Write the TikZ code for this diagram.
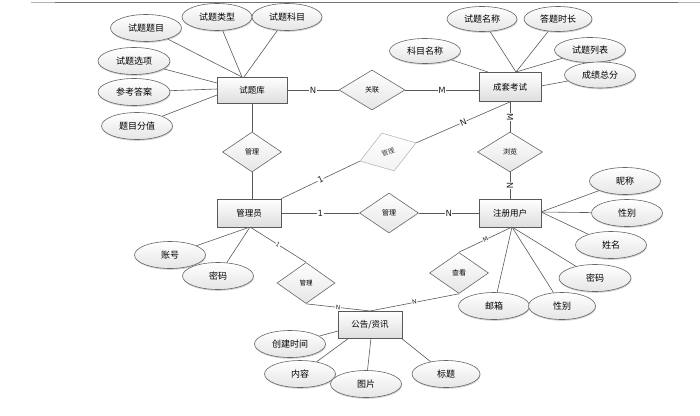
\documentclass[tikz,border=0pt]{standalone}
\usepackage{fontspec}
\setsansfont{DejaVu Sans}
\newfontfamily\cjk{Noto Sans CJK SC}
\usetikzlibrary{shapes.geometric,shadows,backgrounds}
\begin{document}
\begin{tikzpicture}[x=1pt,y=-1pt,
 ent/.style={draw=black!65, line width=0.8pt, top color=white, bottom color=black!13,
   minimum width=64pt, minimum height=27pt, inner sep=0pt, font=\cjk\fontsize{8.5}{8.5}\selectfont},
 attr/.style={ellipse, draw=black!60, line width=0.6pt, top color=white, bottom color=black!10,
   minimum width=71pt, minimum height=27pt, inner sep=0pt, font=\cjk\fontsize{9}{9}\selectfont,
   drop shadow={shadow xshift=0.5pt, shadow yshift=-1.3pt, opacity=0.35}},
 rel/.style={diamond, draw=black!60, line width=0.6pt, top color=white, bottom color=black!10,
   minimum width=59pt, minimum height=40pt, inner sep=0pt, font=\cjk\fontsize{7}{7}\selectfont},
 conn/.style={draw=black!65, line width=0.6pt},
 card/.style={fill=white, inner sep=0.5pt, font=\sffamily\fontsize{8.5}{8.5}\selectfont, text=black!85},
 cards/.style={card, font=\sffamily\fontsize{6}{6}\selectfont},
]
\useasboundingbox (0,0) rectangle (700,415);
\draw[black!30, line width=0.7pt] (31,2) -- (55,2);
\draw[black!55, line width=0.7pt] (55,2) -- (678,2);
\draw[black!30, line width=0.7pt] (678,2) -- (700,2);

% entities
\node[ent, minimum width=70pt, minimum height=26pt] (tk) at (252,90) {试题库};
\node[ent, minimum width=62pt, minimum height=29pt] (ck) at (510,87) {成套考试};
\node[ent, minimum height=28pt] (gly) at (249,213) {管理员};
\node[ent, minimum width=62pt, minimum height=28pt] (zc) at (510,213) {注册用户};
\node[ent] (gg) at (370,325) {公告/资讯};

% relationships
\node[rel, minimum width=66pt] (gl) at (372,90) {关联};
\node[rel] (m1) at (252,152) {管理};
\node[rel, rotate=18, draw=black!28, bottom color=black!5, text=black!75, font=\cjk\fontsize{6.5}{6.5}\selectfont] (tilt) at (388,152) {管理};
\node[rel, minimum width=65pt] (ll) at (510,152) {浏览};
\node[rel] (m2) at (389,213) {管理};
\node[rel, minimum width=58pt, minimum height=41pt, font=\cjk\fontsize{6.5}{6.5}\selectfont] (m3) at (306,283) {管理};
\node[rel, minimum height=41pt] (ckk) at (459,273) {查看};

% attributes
\node[attr] (a1) at (146,28) {试题题目};
\node[attr, minimum width=70pt] (a2) at (217,17) {试题类型};
\node[attr, minimum width=70pt] (a3) at (287,17) {试题科目};
\node[attr, minimum width=72pt] (a4) at (134,61) {试题选项};
\node[attr, minimum width=72pt] (a5) at (134,92) {参考答案};
\node[attr] (a6) at (137,126) {题目分值};

\node[attr, minimum width=70pt, minimum height=25pt] (b1) at (482,19) {试题名称};
\node[attr, minimum width=68pt, minimum height=25pt] (b2) at (558,19) {答题时长};
\node[attr, minimum height=25pt] (b3) at (425,51) {科目名称};
\node[attr, minimum height=25pt] (b4) at (590,50) {试题列表};
\node[attr, minimum height=26pt] (b5) at (600,75) {成绩总分};

\node[attr] (c1) at (625,181) {昵称};
\node[attr] (c2) at (627,213) {性别};
\node[attr] (c3) at (611,245) {姓名};
\node[attr, minimum width=72pt] (c4) at (595,278) {密码};
\node[attr, minimum width=71pt] (c6) at (494,306) {邮箱};
\node[attr, minimum width=67pt] (c5) at (562,306) {性别};

\node[attr] (d1) at (170,255) {账号};
\node[attr] (d2) at (218,276) {密码};

\node[attr] (e1) at (290,344) {创建时间};
\node[attr] (e2) at (300,374) {内容};
\node[attr] (e3) at (366,384) {图片};
\node[attr, minimum width=68pt] (e4) at (446,374) {标题};

% convergence points
\coordinate (tkT) at (242,77);
\coordinate (tkT2) at (244,77);
\coordinate (tkL1) at (217,83);
\coordinate (tkL2) at (217,89);
\coordinate (tkL3) at (217,95);
\coordinate (ckT) at (516,72);
\coordinate (ckT2) at (488,72);
\coordinate (ckR) at (541,86);
\coordinate (zcR) at (541,212);
\coordinate (zcB) at (512,227);
\coordinate (glyB) at (250,227);
\coordinate (ggT) at (370,311);
\coordinate (ggL) at (338,331);
\coordinate (ggB1) at (349,338);
\coordinate (ggB2) at (371,338);
\coordinate (ggB3) at (401,338);

\begin{scope}[on background layer]
\draw[conn] (a1) -- (tkT);
\draw[conn] (a2) -- (tkT);
\draw[conn] (a3) -- (tkT2);
\draw[conn] (a4) -- (tkL1);
\draw[conn] (a5) -- (tkL2);
\draw[conn] (a6) -- (tkL3);
\draw[conn] (b1) -- (ckT);
\draw[conn] (b2) -- (ckT);
\draw[conn] (b4) -- (ckT);
\draw[conn] (b3) -- (ckT2);
\draw[conn] (b5) -- (ckR);
\draw[conn] (c1) -- (zcR);
\draw[conn] (c2) -- (zcR);
\draw[conn] (c3) -- (zcR);
\draw[conn] (c4) -- (zcB);
\draw[conn] (c5) -- (zcB);
\draw[conn] (c6) -- (zcB);
\draw[conn] (d1) -- (glyB);
\draw[conn] (d2) -- (glyB);
\draw[conn] (e1) -- (ggL);
\draw[conn] (e2) -- (ggB1);
\draw[conn] (e3) -- (ggB2);
\draw[conn] (e4) -- (ggB3);
\end{scope}

% relationship connectors
\draw[conn] (tk.east) -- node[card]{N} (gl.west);
\draw[conn] (gl.east) -- node[card]{M} (gl.east -| ck.west);
\draw[conn] (m1.north |- tk.south) -- (m1.north);
\draw[conn] (m1.south) -- (m1.south |- gly.north);
\draw[conn] (gly.north east) -- node[card, sloped]{1} (tilt.west);
\draw[conn] (tilt.east) -- node[card, sloped]{N} (ck.south);
\draw[conn] (ck.south) -- node[card, sloped]{M} (ll.north);
\draw[conn] (ll.south) -- node[card, sloped]{N} (zc.north);
\draw[conn] (gly.east) -- node[card]{1} (m2.west);
\draw[conn] (m2.east) -- node[card]{N} (zc.west);
\draw[conn] (glyB) -- node[cards, sloped]{1} (m3.north);
\draw[conn] (m3.south) -- node[cards, sloped]{N} (ggT);
\draw[conn] (ggT) -- node[cards, sloped]{N} (ckk.south);
\draw[conn] (ckk.north) -- node[cards, sloped]{M} (zcB);
\end{tikzpicture}
\end{document}
